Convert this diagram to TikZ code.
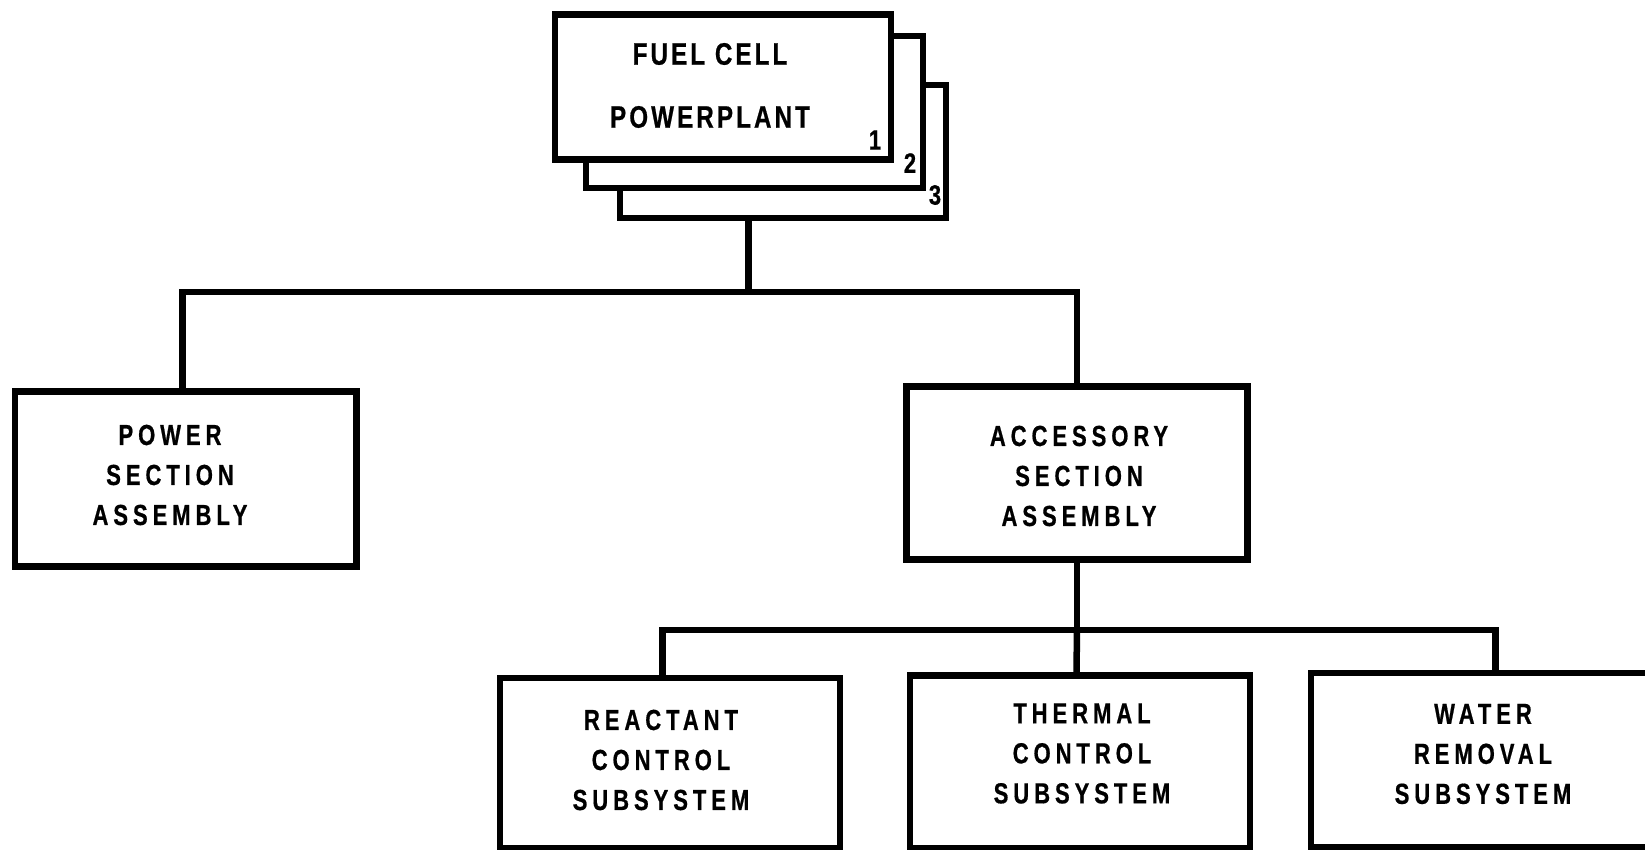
\documentclass[tikz,border=0pt]{standalone}
\usepackage{fontspec}
\newfontfamily\topfont[FakeStretch=0.78,LetterSpace=10,FakeBold=0.6]{Liberation Sans}
\newfontfamily\boxfont[FakeStretch=0.76,LetterSpace=17,FakeBold=0.6]{Liberation Sans}
\begin{document}
\begin{tikzpicture}[x=0.5pt,y=-0.5pt,
  box/.style={draw=black,fill=white,line width=3.25pt,inner sep=0pt,rectangle},
  conn/.style={draw=black,line width=3.25pt},
  toplbl/.style={font=\topfont\bfseries\fontsize{15.5}{31.5}\selectfont,align=center,inner sep=0pt},
  lbl/.style={font=\boxfont\bfseries\fontsize{14.5}{20}\selectfont,align=center,inner sep=0pt},
  num/.style={font=\topfont\bfseries\fontsize{14}{15}\selectfont,inner sep=0pt}]
\useasboundingbox (0,0) rectangle (1645,850);
\fill[white] (0,0) rectangle (1645,850);
% stacked powerplant boxes
\node[box,minimum width=163pt,minimum height=66.5pt] (pp3) at (783,151.5) {};
\node[box,minimum width=168.5pt,minimum height=76pt] (pp2) at (754.5,112) {};
\node[box,minimum width=168pt,minimum height=72.5pt] (pp1) at (723,87) {};
\node[toplbl] (ppt) at (710,85.5) {FUEL CELL\\POWERPLANT};
\node[num] (n1) at (875,140) {1};
\node[num] (n2) at (910,163) {2};
\node[num] (n3) at (935,195) {3};
% second level
\node[box,minimum width=170.75pt,minimum height=87.25pt] (psa) at (185.75,479) {};
\node[lbl] (psat) at (170,475) {POWER\\SECTION\\ASSEMBLY};
\node[box,minimum width=170.5pt,minimum height=86.25pt] (asa) at (1077,473) {};
\node[lbl] (asat) at (1079,476) {ACCESSORY\\SECTION\\ASSEMBLY};
% third level
\node[box,minimum width=170pt,minimum height=85pt] (rcs) at (670,763) {};
\node[lbl] (rcst) at (661,760) {REACTANT\\CONTROL\\SUBSYSTEM};
\node[box,minimum width=170pt,minimum height=86.25pt] (tcs) at (1080,761.75) {};
\node[lbl] (tcst) at (1082,753.5) {THERMAL\\CONTROL\\SUBSYSTEM};
\node[box,minimum width=184.5pt,minimum height=87pt] (wrs) at (1495.5,760) {};
\node[lbl] (wrst) at (1483,754) {WATER\\REMOVAL\\SUBSYSTEM};
% connectors
\coordinate (t) at (748.5,292);
\coordinate (b) at (1077,630);
\draw[conn] (pp3.south -| t) -- (t);
\draw[conn] ([xshift=-1.6pt]psa.north) |- (t) -| (asa.north);
\draw[conn] (asa.south) -- (b);
\draw[conn] ([xshift=-3.75pt]rcs.north) |- (b) -| (wrs.north);
\draw[conn] (b) -- ([xshift=-1.75pt]tcs.north);
\end{tikzpicture}
\end{document}
